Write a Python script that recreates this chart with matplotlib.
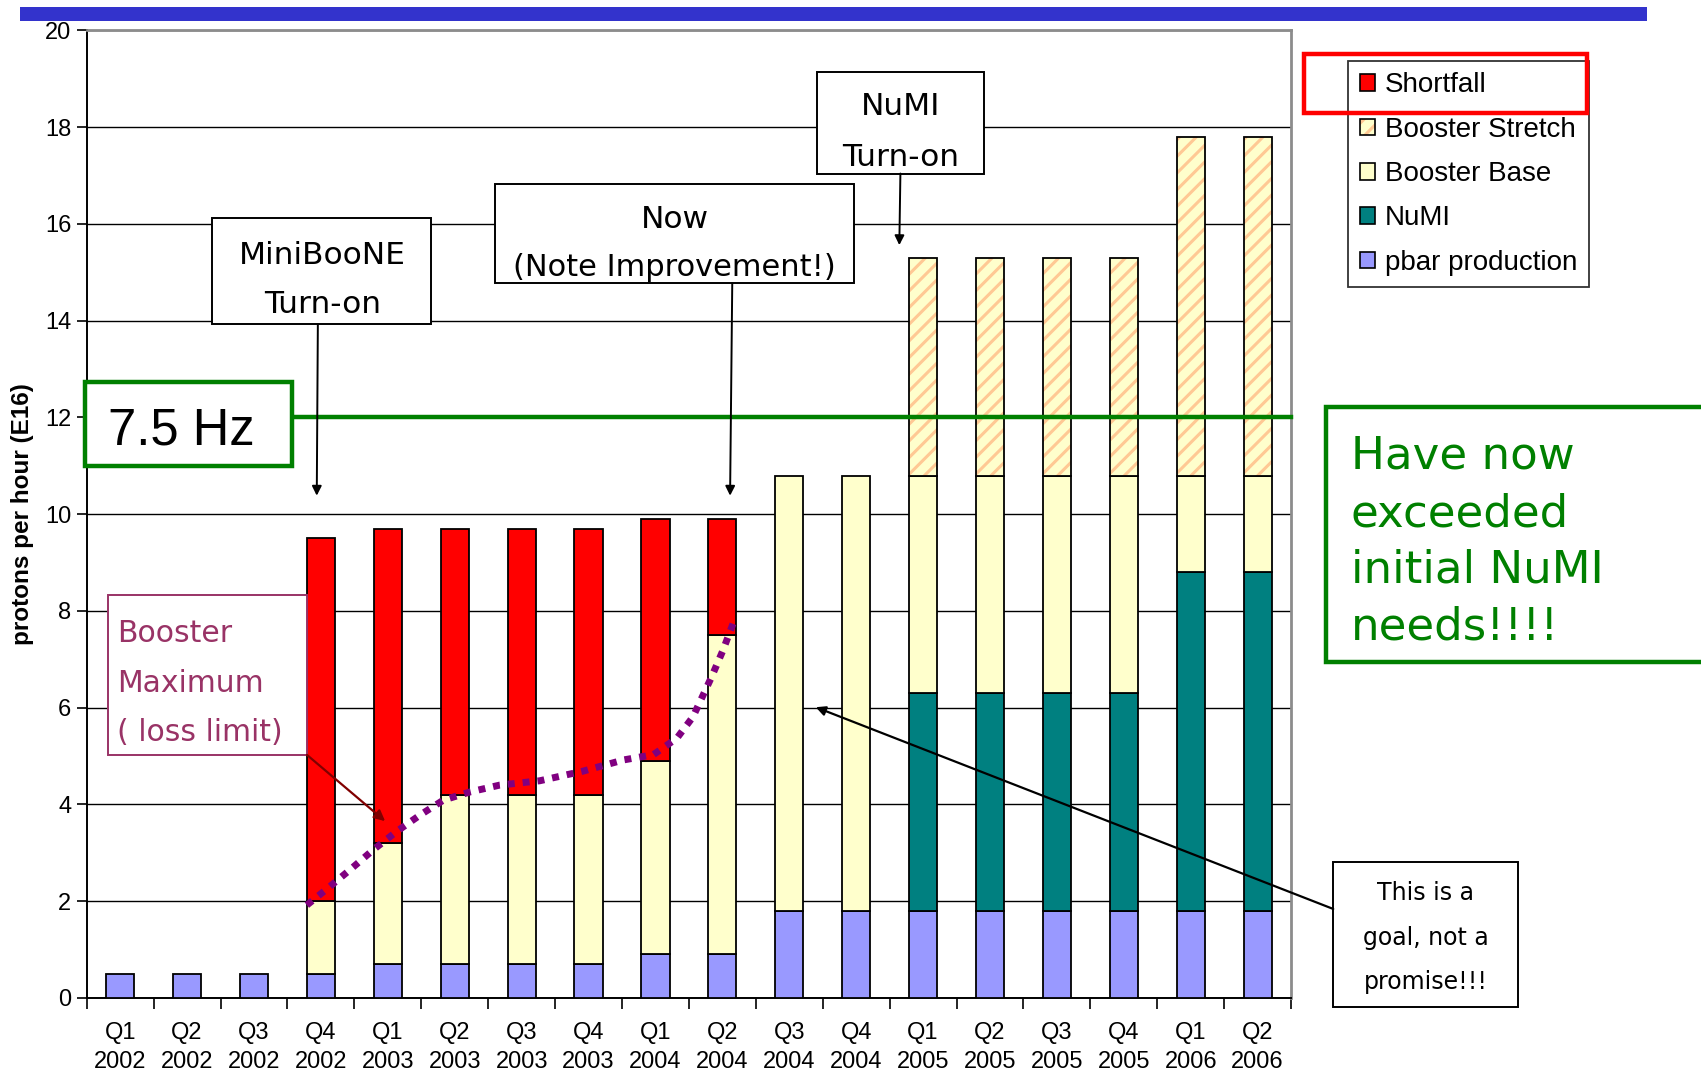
import numpy as np
import matplotlib
matplotlib.use("Agg")
import matplotlib.pyplot as plt
from matplotlib.patches import Rectangle, Patch, FancyArrowPatch
from matplotlib import transforms

# ---------------------------------------------------------------- data
quarters = ["Q1\n2002", "Q2\n2002", "Q3\n2002", "Q4\n2002",
            "Q1\n2003", "Q2\n2003", "Q3\n2003", "Q4\n2003",
            "Q1\n2004", "Q2\n2004", "Q3\n2004", "Q4\n2004",
            "Q1\n2005", "Q2\n2005", "Q3\n2005", "Q4\n2005",
            "Q1\n2006", "Q2\n2006"]

pbar_production = [0.5, 0.5, 0.5, 0.5, 0.7, 0.7, 0.7, 0.7, 0.9, 0.9,
                   1.8, 1.8, 1.8, 1.8, 1.8, 1.8, 1.8, 1.8]
numi = [0, 0, 0, 0, 0, 0, 0, 0, 0, 0, 0, 0, 4.5, 4.5, 4.5, 4.5, 7.0, 7.0]
booster_base = [0, 0, 0, 1.5, 2.5, 3.5, 3.5, 3.5, 4.0, 6.6,
                9.0, 9.0, 4.5, 4.5, 4.5, 4.5, 2.0, 2.0]
booster_stretch = [0, 0, 0, 0, 0, 0, 0, 0, 0, 0, 0, 0, 4.5, 4.5, 4.5, 4.5, 7.0, 7.0]
shortfall = [0, 0, 0, 7.5, 6.5, 5.5, 5.5, 5.5, 5.0, 2.4, 0, 0, 0, 0, 0, 0, 0, 0]

# Booster maximum (loss limit): position along the quarter axis, protons/hr
bmax_pos = [2.79, 3.13, 3.46, 3.78, 4.13, 4.48, 4.83, 5.23, 5.67, 6.27,
            6.92, 7.52, 7.97, 8.32, 8.56, 8.84, 9.01, 9.16]
bmax_val = [1.92, 2.30, 2.68, 3.06, 3.44, 3.78, 4.09, 4.26, 4.40, 4.49,
            4.69, 4.92, 5.03, 5.37, 5.81, 6.64, 7.19, 7.74]

rate_7p5hz = 12.0

# ---------------------------------------------------------------- style
SANS = ["Liberation Sans", "DejaVu Sans"]
HAND = ["DejaVu Sans"]
plt.rcParams["font.family"] = SANS
plt.rcParams["hatch.linewidth"] = 2.2

C_SHORT = "#FF0000"
C_BASE = "#FFFFCC"
C_HATCH = "#FFC994"
C_NUMI = "#008080"
C_PBAR = "#9999FF"
C_GREEN = "#008000"
C_MAROON = "#993366"

fig = plt.figure(figsize=(17.01, 10.76), dpi=100)
fig.patch.set_facecolor("white")
ax = fig.add_axes([0.0510, 0.0725, 0.7080, 0.8992])


def fx(xd):
    return xd / 1568.0


def fy(yd):
    return 1.0 - yd / 992.0


# ---------------------------------------------------------------- bars
x = np.arange(len(quarters))
width = 0.42
bottom = np.zeros(len(quarters))


def stack(values, **kw):
    v = np.asarray(values, dtype=float)
    m = v > 0
    ax.bar(x[m], v[m], width, bottom=bottom[m], zorder=3, **kw)
    return v


for vals, col in [(pbar_production, C_PBAR), (numi, C_NUMI), (booster_base, C_BASE)]:
    bottom = bottom + stack(vals, color=col, edgecolor="black", linewidth=1.3)

v = np.asarray(booster_stretch, dtype=float)
m = v > 0
ax.bar(x[m], v[m], width, bottom=bottom[m], color=C_BASE, edgecolor=C_HATCH,
       hatch="//", linewidth=0, zorder=3)
ax.bar(x[m], v[m], width, bottom=bottom[m], fill=False, edgecolor="black",
       linewidth=1.3, zorder=3.5)
bottom = bottom + v

bottom = bottom + stack(shortfall, color=C_SHORT, edgecolor="black", linewidth=1.3)

# booster maximum curve
ax.plot(bmax_pos, bmax_val, color="#800080", linewidth=5.0,
        linestyle=(0, (1, 1.15)), dash_capstyle="butt", zorder=5)

# 7.5 Hz level line, running out from its label box to the right axis edge
blend = transforms.blended_transform_factory(fig.transFigure, ax.transData)
ax.plot([fx(269), 0.7590], [rate_7p5hz, rate_7p5hz], color=C_GREEN,
        linewidth=3.2, transform=blend, clip_on=False, zorder=6)

# ---------------------------------------------------------------- axes
ax.set_xlim(-0.5, len(quarters) - 0.5)
ax.set_ylim(0, 20)
ax.set_yticks(np.arange(0, 21, 2))
ax.set_xticks(x)
ax.set_xticklabels(quarters, fontsize=17, linespacing=1.45)
ax.set_xticks(np.arange(-0.5, len(quarters), 1.0), minor=True)
ax.tick_params(axis="x", which="major", length=0, pad=17)
ax.tick_params(axis="x", which="minor", length=8, width=1.2, direction="out")
ax.tick_params(axis="y", length=7, width=1.2, direction="out", labelsize=17, pad=4)
ax.yaxis.grid(True, color="black", linewidth=1.0)
ax.set_axisbelow(True)
for side in ("top", "right"):
    ax.spines[side].set_color("#8C8C8C")
    ax.spines[side].set_linewidth(2.0)
for side in ("left", "bottom"):
    ax.spines[side].set_color("black")
    ax.spines[side].set_linewidth(1.4)

fig.text(0.0135, 0.0725 + 0.8992 / 2, "protons per hour (E16)", rotation=90,
         ha="center", va="center", fontsize=17.5, fontweight="bold")

# header stripe
fig.add_artist(Rectangle((fx(18), fy(19)), fx(1518) - fx(18), fy(6) - fy(19),
                         transform=fig.transFigure, facecolor="#3333CC",
                         edgecolor="none"))

# ---------------------------------------------------------------- legend
handles = [
    Patch(facecolor=C_SHORT, edgecolor="black", linewidth=1.2),
    (Patch(facecolor=C_BASE, edgecolor=C_HATCH, hatch="//", linewidth=0),
     Patch(facecolor="none", edgecolor="black", linewidth=1.2)),
    Patch(facecolor=C_BASE, edgecolor="black", linewidth=1.2),
    Patch(facecolor=C_NUMI, edgecolor="black", linewidth=1.2),
    Patch(facecolor=C_PBAR, edgecolor="black", linewidth=1.2),
]
labels = ["Shortfall", "Booster Stretch", "Booster Base", "NuMI", "pbar production"]
leg = fig.legend(handles, labels, loc="upper left",
                 bbox_to_anchor=(fx(1243), fy(56)), bbox_transform=fig.transFigure,
                 fontsize=20, frameon=True, fancybox=False, edgecolor="black",
                 handlelength=0.55, handleheight=0.55, handletextpad=0.33,
                 borderpad=0.42, labelspacing=0.66, borderaxespad=0)
leg.get_frame().set_linewidth(1.3)

# red highlight round the shortfall entry
fig.add_artist(Rectangle((fx(1202), fy(104)), fx(1463) - fx(1202), fy(50) - fy(104),
                         transform=fig.transFigure, facecolor="none",
                         edgecolor="#FF0000", linewidth=3.2, zorder=10))


# ---------------------------------------------------------------- callouts
def box(x0, y0, x1, y1, ec="black", lw=1.4):
    fig.add_artist(Rectangle((fx(x0), fy(y1)), fx(x1) - fx(x0), fy(y0) - fy(y1),
                             transform=fig.transFigure, facecolor="white",
                             edgecolor=ec, linewidth=lw, zorder=4))


def line(xd, yd, s, size, ha="center", color="black", family=HAND):
    fig.text(fx(xd), fy(yd), s, ha=ha, va="baseline", fontsize=size,
             color=color, family=family, zorder=5)


def arrow(p0, p1, color="black", lw=1.4, ms=14):
    fig.add_artist(FancyArrowPatch((fx(p0[0]), fy(p0[1])), (fx(p1[0]), fy(p1[1])),
                                   transform=fig.transFigure, arrowstyle="-|>",
                                   mutation_scale=ms, color=color, linewidth=lw,
                                   shrinkA=0, shrinkB=0, zorder=6))


# MiniBooNE turn-on
box(195, 201, 397, 299)
line(297, 243, "MiniBooNE", 22.5)
line(297, 289, "Turn-on", 22.5)
arrow((293, 299), (292, 457))

# Now
box(456, 170, 787, 261)
line(622, 210, "Now", 22.5)
line(622, 254, "(Note Improvement!)", 22)
arrow((675, 261), (673, 457))

# NuMI turn-on
box(753, 66, 907, 160)
line(830, 106, "NuMI", 22.5)
line(830, 153, "Turn-on", 22.5)
arrow((830, 160), (829, 226))

# 7.5 Hz
box(78, 352, 269, 430, ec=C_GREEN, lw=3.2)
line(100, 410, "7.5 Hz", 36.5, ha="left", family=SANS)

# Booster maximum
box(100, 549, 283, 696, ec=C_MAROON, lw=1.4)
line(108, 592, "Booster", 21.5, ha="left", color=C_MAROON)
line(108, 638, "Maximum", 21.5, ha="left", color=C_MAROON)
line(108, 683, "( loss limit)", 21.5, ha="left", color=C_MAROON)
arrow((283, 696), (355, 757), color="#800000", lw=1.6, ms=16)

# NuMI needs met
box(1222, 375, 1590, 610, ec=C_GREEN, lw=3.2)
for yd, s in [(432, "Have now"), (485, "exceeded"), (537, "initial NuMI"), (590, "needs!!!!")]:
    line(1245, yd, s, 32.5, ha="left", color=C_GREEN)

# goal, not promise
box(1229, 795, 1399, 928)
line(1314, 830, "This is a", 17)
line(1314, 871, "goal, not a", 17)
line(1314, 912, "promise!!!", 17)
arrow((1229, 838), (752, 652), lw=1.6)

fig.savefig("out.png", dpi=100, facecolor="white")
